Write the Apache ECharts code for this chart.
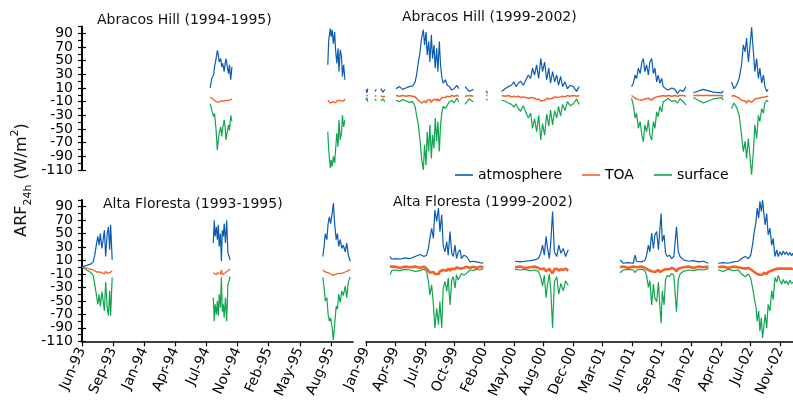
<!DOCTYPE html>
<html><head><meta charset="utf-8">
<script src="https://cdn.jsdelivr.net/npm/echarts@6/dist/echarts.min.js"></script>
<style>html,body{margin:0;padding:0;background:#fff}#c{width:793px;height:401px}</style>
</head><body><div id="c"></div>
<script>
// ---------- tick labels ----------
const yTickLabels = [90, 70, 50, 30, 10, -10, -30, -50, -70, -90, -110];
const leftTickLabels = ['Jun-93','Sep-93','Jan-94','Apr-94','Jul-94','Nov-94','Feb-95','May-95','Aug-95'];
const rightTickLabels = ['Jan-99','Apr-99','Jul-99','Oct-99','Feb-00','May-00','Aug-00','Dec-00','Mar-01','Jun-01','Sep-01','Jan-02','Apr-02','Jul-02','Nov-02'];
const seriesNames = ['atmosphere', 'TOA', 'surface'];

// ---------- Abracos Hill (1994-1995) ----------
const abr94Dates = ['1994-08-06','1994-08-11','1994-08-17','1994-08-20','1994-08-25','1994-08-29','1994-09-01','1994-09-04','1994-09-09','1994-09-12','1994-09-15','1994-09-20','1994-09-23','1994-09-26','1994-09-30','1994-10-04','1994-10-07','1994-10-11','1994-10-15',
 '1995-01-01',
 '1995-08-19','1995-08-22','1995-08-27','1995-08-30','1995-09-02','1995-09-06','1995-09-10','1995-09-13','1995-09-17','1995-09-21','1995-09-24','1995-09-28','1995-10-02','1995-10-05','1995-10-09','1995-10-13'];
const abr94Atm = [10,24,29,41,53,65,60,48,53,41,46,34,46,53,41,31,44,22,41, null, 44,80,97,85,95,75,92,66,46,68,34,66,56,27,44,22];
const abr94Toa = [-3,-5,-7,-8,-10,-12,-11,-10,-9,-11,-10,-9,-8,-9,-8,-7,-8,-7,-6, null, -8,-10,-12,-11,-12,-10,-11,-12,-9,-10,-8,-10,-9,-7,-9,-6];
const abr94Sur = [-13,-22,-32,-27,-52,-81,-66,-56,-47,-61,-49,-37,-47,-66,-54,-44,-52,-30,-39, null, -54,-81,-107,-95,-105,-90,-100,-81,-56,-76,-37,-66,-56,-30,-47,-37];

// ---------- Abracos Hill (1999-2002) ----------
const abr99Dates = ['1999-01-01','1999-01-04','1999-01-07','1999-01-20','1999-01-31','1999-02-05','1999-02-12','1999-02-20','1999-02-27','1999-03-06','1999-03-20',
 '1999-04-12','1999-04-24','1999-05-05','1999-05-16','1999-05-27','1999-06-08','1999-06-16','1999-06-21','1999-06-27','1999-07-03','1999-07-08','1999-07-14','1999-07-18','1999-07-23','1999-07-27','1999-08-01','1999-08-05','1999-08-10','1999-08-14','1999-08-19','1999-08-23','1999-08-28','1999-09-01','1999-09-06','1999-09-10','1999-09-15','1999-09-19','1999-09-26','1999-10-03','1999-10-10','1999-10-18','1999-10-26','1999-11-04','1999-11-11','1999-11-20',
 '1999-12-02','1999-12-16','1999-12-30','2000-01-20',
 '2000-02-11','2000-02-16','2000-03-01',
 '2000-04-04','2000-04-15','2000-04-26','2000-05-07','2000-05-15','2000-05-22','2000-05-30','2000-06-07','2000-06-16','2000-06-25','2000-07-03','2000-07-11','2000-07-17','2000-07-24','2000-07-31','2000-08-07','2000-08-14','2000-08-20','2000-08-27','2000-09-03','2000-09-10','2000-09-16','2000-09-23','2000-09-30','2000-10-07','2000-10-13','2000-10-20','2000-10-27','2000-11-04','2000-11-12','2000-11-21','2000-12-02','2000-12-13','2000-12-22','2001-01-15',
 '2001-06-17','2001-06-23','2001-06-29','2001-07-04','2001-07-10','2001-07-16','2001-07-22','2001-07-27','2001-08-01','2001-08-07','2001-08-13','2001-08-18','2001-08-24','2001-08-30','2001-09-04','2001-09-10','2001-09-15','2001-09-21','2001-09-27','2001-10-02','2001-10-11','2001-10-19','2001-10-31','2001-11-11','2001-11-19','2001-11-28','2001-12-09','2001-12-18','2002-01-01',
 '2002-01-12','2002-02-15','2002-03-20','2002-04-18','2002-04-23','2002-05-10',
 '2002-05-21','2002-05-29','2002-06-07','2002-06-16','2002-06-24','2002-06-30','2002-07-06','2002-07-11','2002-07-17','2002-07-22','2002-07-28','2002-08-03','2002-08-08','2002-08-14','2002-08-20','2002-08-25','2002-08-31','2002-09-06','2002-09-11','2002-09-17','2002-09-22'];
const abr99Atm = [8,3,9,null,5,8,null,9,4,8,null,
 9,12,8,10,12,13,19,29,48,63,83,95,73,92,58,78,48,88,53,73,39,68,34,78,44,24,17,22,14,12,7,9,14,9,null,
 12,5,8,null,
 6,2,null,
 5,9,12,14,19,12,17,20,14,22,29,24,39,29,44,24,53,34,48,22,39,17,34,19,29,14,27,12,19,9,14,12,5,12,null,
 12,17,29,24,39,31,48,53,34,44,29,48,53,31,39,19,29,17,24,12,9,7,10,8,2,7,5,12,null,
 3,8,4,3,6,null,
 19,9,14,24,44,73,63,83,48,68,99,63,34,53,24,39,17,29,12,5,8];
const abr99Toa = [-1,-3,-1,null,-2,-1,null,-1,-3,-2,null,
 -1,-2,-1,-2,-1,-2,-3,-5,-8,-10,-12,-11,-9,-12,-8,-10,-7,-11,-8,-10,-6,-9,-6,-9,-7,-4,-3,-4,-2,-3,-1,-2,-1,-2,null,
 -2,-1,-2,null,
 -1,-1,null,
 -1,-2,-1,-3,-2,-3,-2,-4,-3,-4,-5,-4,-6,-5,-7,-6,-9,-7,-8,-5,-6,-4,-5,-3,-4,-2,-3,-2,-3,-1,-2,-1,-2,-1,null,
 -1,-3,-5,-4,-7,-6,-8,-9,-6,-8,-5,-7,-8,-5,-6,-3,-4,-2,-3,-1,-2,-1,-2,-1,-2,-1,-1,-2,null,
 -1,-1,-1,-1,-2,null,
 -2,-1,-3,-5,-8,-10,-9,-12,-8,-10,-11,-9,-6,-8,-5,-7,-4,-5,-3,-2,-2];
const abr99Sur = [-8,-4,-10,null,-6,-9,null,-9,-6,-10,null,
 -8,-10,-7,-9,-11,-10,-17,-30,-44,-68,-93,-110,-73,-103,-54,-83,-44,-93,-59,-78,-34,-68,-39,-83,-44,-25,-17,-20,-15,-10,-8,-12,-5,-10,null,
 -14,-6,-10,null,
 -6,-8,null,
 -8,-9,-12,-14,-18,-13,-20,-24,-16,-26,-34,-27,-49,-35,-54,-30,-66,-42,-59,-28,-46,-22,-44,-23,-34,-17,-31,-14,-23,-10,-16,-13,-6,-14,null,
 -5,-15,-34,-27,-49,-39,-59,-69,-44,-54,-37,-59,-66,-39,-49,-25,-32,-17,-25,-10,-8,-5,-10,-8,-12,-6,-10,-15,null,
 -4,-12,-6,-4,-8,null,
 -20,-12,-18,-30,-59,-83,-68,-93,-64,-88,-117,-83,-44,-64,-30,-39,-20,-27,-12,-8,-10];

// ---------- Alta Floresta (1993-1995) ----------
const alt93Dates = ['1993-06-21','1993-07-01','1993-07-12','1993-07-19','1993-07-26','1993-07-31','1993-08-06','1993-08-10','1993-08-14','1993-08-18','1993-08-23','1993-08-27','1993-08-31','1993-09-04','1993-09-09','1993-09-13','1993-09-17','1993-09-20','1993-09-25','1993-10-15',
 '1994-08-16','1994-08-19','1994-08-22','1994-08-26','1994-08-29','1994-09-01','1994-09-04','1994-09-08','1994-09-11','1994-09-14','1994-09-17','1994-09-20','1994-09-24','1994-09-28','1994-10-02','1994-10-06','1994-10-09','1995-01-01',
 '1995-08-03','1995-08-07','1995-08-11','1995-08-16','1995-08-20','1995-08-24','1995-08-28','1995-09-02','1995-09-06','1995-09-10','1995-09-15','1995-09-19','1995-09-23','1995-09-28','1995-10-03','1995-10-08','1995-10-14','1995-10-19','1995-10-24','1995-10-30'];
const alt93Atm = [1,2,4,5,8,18,36,46,33,50,28,41,55,16,50,60,26,63,11,null,
 36,70,46,60,41,63,31,50,9,55,46,65,36,70,21,16,11,null,
 16,31,50,41,65,75,65,80,95,65,41,50,31,41,28,33,23,36,18,9];
const alt93Toa = [0,-1,-2,-3,-4,-6,-7,-8,-7,-9,-8,-9,-10,-6,-9,-10,-8,-9,-5,null,
 -8,-10,-9,-11,-8,-10,-9,-10,-4,-11,-9,-10,-8,-6,-5,-4,-3,null,
 -4,-5,-7,-6,-8,-9,-10,-11,-12,-11,-10,-11,-9,-10,-9,-8,-7,-6,-5,-4];
const alt93Sur = [0,-3,-6,-8,-12,-25,-43,-55,-40,-58,-36,-50,-65,-22,-60,-72,-35,-72,-15,null,
 -45,-80,-55,-70,-50,-72,-40,-60,-15,-66,-55,-75,-45,-80,-25,-20,-14,null,
 -15,-30,-50,-45,-70,-80,-75,-90,-108,-85,-58,-62,-40,-52,-35,-42,-28,-45,-22,-14];

// ---------- Alta Floresta (1999-2002) ----------
const alt99Dates = ['1999-03-23','1999-03-29','1999-04-09','1999-04-26','1999-05-13','1999-05-30','1999-06-16','1999-07-03','1999-07-16','1999-07-25','1999-07-31','1999-08-05','1999-08-11','1999-08-17','1999-08-22','1999-08-28','1999-09-03','1999-09-08','1999-09-14','1999-09-19','1999-09-25','1999-10-01','1999-10-06','1999-10-12','1999-10-18','1999-10-23','1999-10-29','1999-11-03','1999-11-09','1999-11-15','1999-11-20','1999-11-28','1999-12-07','1999-12-19','1999-12-30','2000-01-10','2000-01-21','2000-02-02','2000-03-15',
 '2000-05-19','2000-06-05','2000-06-22','2000-07-09','2000-07-25','2000-08-06','2000-08-14','2000-08-20','2000-08-26','2000-09-01','2000-09-06','2000-09-12','2000-09-17','2000-09-23','2000-09-29','2000-10-07','2000-10-14','2000-10-21','2000-10-29','2000-11-06','2000-11-15','2001-01-01',
 '2001-05-09','2001-05-20','2001-06-06','2001-06-23','2001-06-29','2001-07-04','2001-07-21','2001-08-01','2001-08-07','2001-08-13','2001-08-18','2001-08-24','2001-08-30','2001-09-04','2001-09-10','2001-09-16','2001-09-21','2001-09-25','2001-09-29','2001-10-05','2001-10-10','2001-10-16','2001-10-23','2001-10-31','2001-11-07','2001-11-16','2001-11-22','2001-11-28','2001-12-09','2001-12-26','2002-01-12','2002-01-29','2002-02-15','2002-03-04','2002-03-20',
 '2002-04-06','2002-04-23','2002-05-10','2002-05-27','2002-06-13','2002-06-24','2002-07-06','2002-07-17','2002-07-25','2002-07-31','2002-08-06','2002-08-12','2002-08-16','2002-08-21','2002-08-25','2002-08-30','2002-09-03','2002-09-08','2002-09-12','2002-09-17','2002-09-22','2002-09-28','2002-10-04','2002-10-09','2002-10-15','2002-10-21','2002-10-26','2002-11-01','2002-11-07','2002-11-12','2002-11-18','2002-11-23','2002-11-29','2002-12-05','2002-12-10','2002-12-15'];
const alt99Atm = [16,12,13,12,14,13,16,19,16,18,28,43,58,43,85,68,88,53,78,33,23,38,18,53,21,16,33,13,23,26,13,18,16,8,9,8,7,6,null,
 9,8,9,10,11,13,21,33,18,46,28,13,38,83,23,16,33,21,28,16,26,null,
 11,6,7,6,18,9,8,10,18,33,23,51,28,48,53,26,58,80,38,48,21,16,18,13,16,60,23,16,11,9,10,8,9,6,null,
 6,7,6,8,9,13,16,13,18,33,53,68,88,73,98,83,100,78,63,80,48,58,33,43,16,26,16,23,18,24,19,23,18,22,17,21];
const alt99Toa = [1,-1,1,-1,1,0,1,-1,1,-2,-5,-8,-9,-7,-10,-8,-10,-6,-8,-4,-3,-5,-2,-5,-2,-1,-3,0,-2,-2,0,-1,1,-1,1,-1,1,0,null,
 0,1,-1,0,1,-1,-3,-5,-2,-6,-4,-2,-6,-9,-3,-2,-5,-3,-4,-2,-5,null,
 0,1,-1,1,-1,0,1,-1,-2,-4,-3,-6,-4,-7,-6,-4,-7,-9,-5,-6,-3,-2,-3,-1,-2,-6,-2,-1,0,1,-1,1,0,1,null,
 0,1,-1,1,0,-1,-2,-1,-3,-5,-7,-9,-10,-8,-11,-9,-11,-8,-9,-10,-7,-8,-5,-6,-3,-4,-2,-3,-2,-4,-2,-3,-2,-4,-2,-3];
const alt99Sur = [-11,-5,-4,-5,-3,-4,-6,-5,-3,-6,-21,-41,-26,-56,-90,-61,-85,-51,-90,-31,-21,-36,-16,-56,-19,-14,-31,-11,-19,-21,-9,-12,-9,-4,-5,-3,-4,-2,null,
 -3,-4,-3,-5,-4,-6,-15,-28,-12,-45,-25,-10,-35,-90,-22,-14,-40,-24,-35,-20,-27,null,
 -8,-4,-3,-4,-8,-4,-3,-5,-12,-30,-20,-56,-25,-46,-51,-22,-60,-83,-35,-56,-18,-12,-14,-9,-12,-66,-18,-10,-6,-4,-5,-3,-4,-2,null,
 -4,-6,-3,-5,-4,-10,-14,-10,-16,-30,-45,-60,-80,-65,-95,-75,-105,-85,-70,-90,-55,-65,-35,-48,-15,-22,-12,-20,-25,-18,-24,-20,-26,-19,-24,-22];

// ---------- build ----------
const DAY = 86400000;
function ts(s){ const p = s.split('-'); return Date.UTC(+p[0], +p[1]-1, +p[2]); }
const leftMin = ts('1993-06-20'), leftMax = leftMin + 871*DAY;
const rightMin = ts('1999-01-01'), rightMax = rightMin + 1444*DAY;
const leftTicks = leftTickLabels.map((_, k) => leftMin + k*100*DAY);
const rightTicks = rightTickLabels.map((_, k) => rightMin + k*100*DAY);
const yLabelsA = yTickLabels.filter((_, i) => i % 2 === 0);
const yLabelsB = yTickLabels.filter((_, i) => i % 2 === 1);
const COLORS = { atmosphere: '#0b5cb0', TOA: '#f4622a', surface: '#10a650' };
const FONT = 'DejaVu Sans';

function pairs(dates, vals){ return dates.map((d, i) => [ts(d), vals[i] === null ? '-' : vals[i]]); }

// yAxis layout: 0 = TL main, 1 = TL labels B, 2 = TR hidden, 3 = BL main, 4 = BL labels B, 5 = BR hidden
const panels = [
  { dates: abr94Dates, atm: abr94Atm, toa: abr94Toa, sur: abr94Sur, x: 0, y: 0, toaW: 1.3 },
  { dates: abr99Dates, atm: abr99Atm, toa: abr99Toa, sur: abr99Sur, x: 1, y: 2, toaW: 1.5 },
  { dates: alt93Dates, atm: alt93Atm, toa: alt93Toa, sur: alt93Sur, x: 2, y: 3, toaW: 1.3 },
  { dates: alt99Dates, atm: alt99Atm, toa: alt99Toa, sur: alt99Sur, x: 3, y: 5, toaW: 2.6 }
];
const series = [];
panels.forEach(p => {
  [['atmosphere', p.atm, 2, 1.2], ['surface', p.sur, 3, 1.2], ['TOA', p.toa, 4, p.toaW]].forEach(([name, vals, z, w]) => {
    series.push({
      name, type: 'line', xAxisIndex: p.x, yAxisIndex: p.y, z,
      data: pairs(p.dates, vals), showSymbol: false, symbol: 'none',
      connectNulls: false, clip: false, animation: false,
      lineStyle: { width: w, color: COLORS[name] }, itemStyle: { color: COLORS[name] }
    });
  });
});

function xAx(grid, min, max, ticks, labels, show){
  return {
    type: 'value', gridIndex: grid, min, max, show, position: 'bottom',
    splitLine: { show: false },
    axisLine: { show: true, onZero: false, lineStyle: { color: '#000', width: 1.5 } },
    axisTick: { show: true, length: 5, customValues: ticks, lineStyle: { color: '#000', width: 1.2 } },
    axisLabel: { show: true, customValues: ticks, rotate: 66, margin: 7, fontSize: 14, fontFamily: FONT, color: '#000',
      showMinLabel: true, showMaxLabel: true, hideOverlap: false,
      formatter: v => { const i = ticks.indexOf(v); return i >= 0 ? labels[i] : ''; } }
  };
}
const yLabelStyle = { margin: 9, fontSize: 14, fontFamily: FONT, color: '#000', showMinLabel: true, showMaxLabel: true, hideOverlap: false };
function yMain(grid){
  return {
    type: 'value', gridIndex: grid, position: 'left', min: -110, max: 100, interval: 10,
    splitLine: { show: false },
    axisLine: { show: true, onZero: false, lineStyle: { color: '#000', width: 2 } },
    axisTick: { show: true, length: 4, lineStyle: { color: '#000', width: 1.2 } },
    axisLabel: Object.assign({ show: true, customValues: yLabelsA }, yLabelStyle)
  };
}
function yInner(grid){
  return {
    type: 'value', gridIndex: grid, position: 'left', offset: 0, min: -110, max: 100,
    splitLine: { show: false },
    axisLine: { show: false, onZero: false },
    axisTick: { show: true, inside: true, length: 4, customValues: yTickLabels, lineStyle: { color: '#000', width: 1.2 } },
    axisLabel: Object.assign({ show: true, customValues: yLabelsB }, yLabelStyle)
  };
}
function yHidden(grid){ return { type: 'value', gridIndex: grid, min: -110, max: 100, show: false, splitLine: { show: false } }; }

const titleStyle = { fontSize: 14, fontFamily: FONT, fill: '#111' };
const option = {
  backgroundColor: '#fff',
  animation: false,
  grid: [
    { left: 82, top: 26.5, width: 271, height: 143.5 },
    { left: 366, top: 26.5, width: 427, height: 143.5 },
    { left: 82, top: 200, width: 271, height: 141.7 },
    { left: 366, top: 200, width: 427, height: 141.7 }
  ],
  xAxis: [
    xAx(0, leftMin, leftMax, leftTicks, leftTickLabels, false),
    xAx(1, rightMin, rightMax, rightTicks, rightTickLabels, false),
    xAx(2, leftMin, leftMax, leftTicks, leftTickLabels, true),
    xAx(3, rightMin, rightMax, rightTicks, rightTickLabels, true)
  ],
  yAxis: [ yMain(0), yInner(0), yHidden(1), yMain(2), yInner(2), yHidden(3) ],
  legend: {
    data: seriesNames, left: 450, top: 163, icon: 'rect', itemWidth: 18, itemHeight: 1.6, itemGap: 20,
    textStyle: { fontSize: 14, fontFamily: FONT, color: '#000' }
  },
  graphic: [
    { type: 'text', left: 97, top: 13, style: Object.assign({ text: 'Abracos Hill (1994-1995)' }, titleStyle) },
    { type: 'text', left: 402, top: 10, style: Object.assign({ text: 'Abracos Hill (1999-2002)' }, titleStyle) },
    { type: 'text', left: 103, top: 197, style: Object.assign({ text: 'Alta Floresta (1993-1995)' }, titleStyle) },
    { type: 'text', left: 393, top: 195, style: Object.assign({ text: 'Alta Floresta (1999-2002)' }, titleStyle) },
    { type: 'text', x: 22, y: 180, rotation: Math.PI/2,
      style: { text: '{a|ARF}{s|24h}{a| (W/m}{p|2}{a|)}', align: 'center', verticalAlign: 'middle', fill: '#111',
        rich: {
          a: { fontSize: 16, fontFamily: FONT, lineHeight: 24, fill: '#111' },
          s: { fontSize: 11, fontFamily: FONT, lineHeight: 13, verticalAlign: 'bottom', fill: '#111' },
          p: { fontSize: 11, fontFamily: FONT, lineHeight: 13, verticalAlign: 'top', fill: '#111' }
        } } }
  ],
  series
};
const chart = echarts.init(document.getElementById('c'), null, { renderer: 'canvas' });
chart.setOption(option);
</script></body></html>
